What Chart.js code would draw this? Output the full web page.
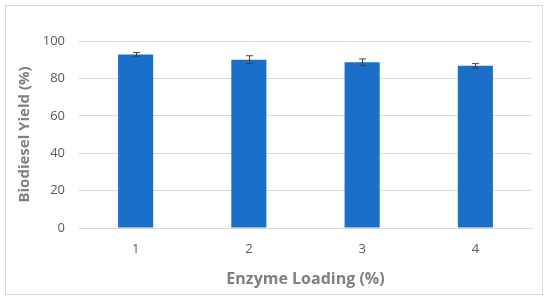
<!DOCTYPE html>
<html lang="en">
<head>
  <meta charset="UTF-8">
  <title>Biodiesel Yield vs Enzyme Loading</title>
  <script src="https://cdn.jsdelivr.net/npm/chart.js"></script>
  <style>
    body { margin: 0; background: #fff; }
    .frame {
      position: absolute; left: 5px; top: 5px;
      width: 536px; height: 288px;
      border: 1px solid #d9d9d9;
    }
  </style>
</head>
<body>
  <div class="frame">
    <canvas id="yieldChart" width="536" height="288"></canvas>
  </div>

  <script>
    // Data
    const loadings = ['1', '2', '3', '4'];
    const yields = [92.8, 90.0, 88.6, 86.7];
    const yieldErrors = [1.0, 2.1, 1.8, 1.2];

    // Simple error bar plugin, drawn through the scales
    const errorBars = {
      id: 'errorBars',
      afterDatasetsDraw(chart) {
        const ctx = chart.ctx;
        const x = chart.scales.x;
        const y = chart.scales.y;
        ctx.save();
        ctx.strokeStyle = '#404040';
        ctx.lineWidth = 1;
        yields.forEach((v, i) => {
          const px = Math.round(x.getPixelForValue(i)) + 0.5;
          const top = y.getPixelForValue(v + yieldErrors[i]);
          const bot = y.getPixelForValue(v - yieldErrors[i]);
          ctx.beginPath();
          ctx.moveTo(px, top);
          ctx.lineTo(px, bot);
          ctx.moveTo(px - 3.5, top);
          ctx.lineTo(px + 3.5, top);
          ctx.moveTo(px - 3.5, bot);
          ctx.lineTo(px + 3.5, bot);
          ctx.stroke();
        });
        ctx.restore();
      }
    };

    const tickFont = { family: 'Open Sans', size: 13 };
    const titleFont = { family: 'Open Sans', size: 15, weight: 'bold' };

    new Chart(document.getElementById('yieldChart').getContext('2d'), {
      type: 'bar',
      data: {
        labels: loadings,
        datasets: [{
          label: 'Biodiesel Yield',
          data: yields,
          backgroundColor: '#1a70c8',
          barPercentage: 1,
          categoryPercentage: 0.31
        }]
      },
      options: {
        responsive: false,
        animation: false,
        layout: { padding: { top: 35, right: 10, left: 0, bottom: 0 } },
        plugins: {
          legend: { display: false },
          tooltip: { enabled: false }
        },
        scales: {
          x: {
            grid: { display: false, drawTicks: false },
            border: { display: true, color: '#d9d9d9' },
            ticks: { color: '#595959', font: tickFont, padding: 13 },
            title: {
              display: true,
              text: 'Enzyme Loading (%)',
              color: '#7f7f7f',
              font: { family: 'Open Sans', size: 16, weight: 'bold' },
              padding: { top: 0, bottom: 5 }
            },
            afterFit(scale) { scale.height = 66; }
          },
          y: {
            min: 0,
            max: 100,
            grid: { color: '#d9d9d9', drawTicks: false },
            border: { display: false },
            ticks: { stepSize: 20, color: '#595959', font: tickFont, padding: 14 },
            title: {
              display: true,
              text: 'Biodiesel Yield (%)',
              color: '#7f7f7f',
              font: titleFont,
              padding: { top: 10, bottom: 0 }
            },
            afterFit(scale) { scale.width = 73; }
          }
        }
      },
      plugins: [errorBars]
    });
  </script>
</body>
</html>
